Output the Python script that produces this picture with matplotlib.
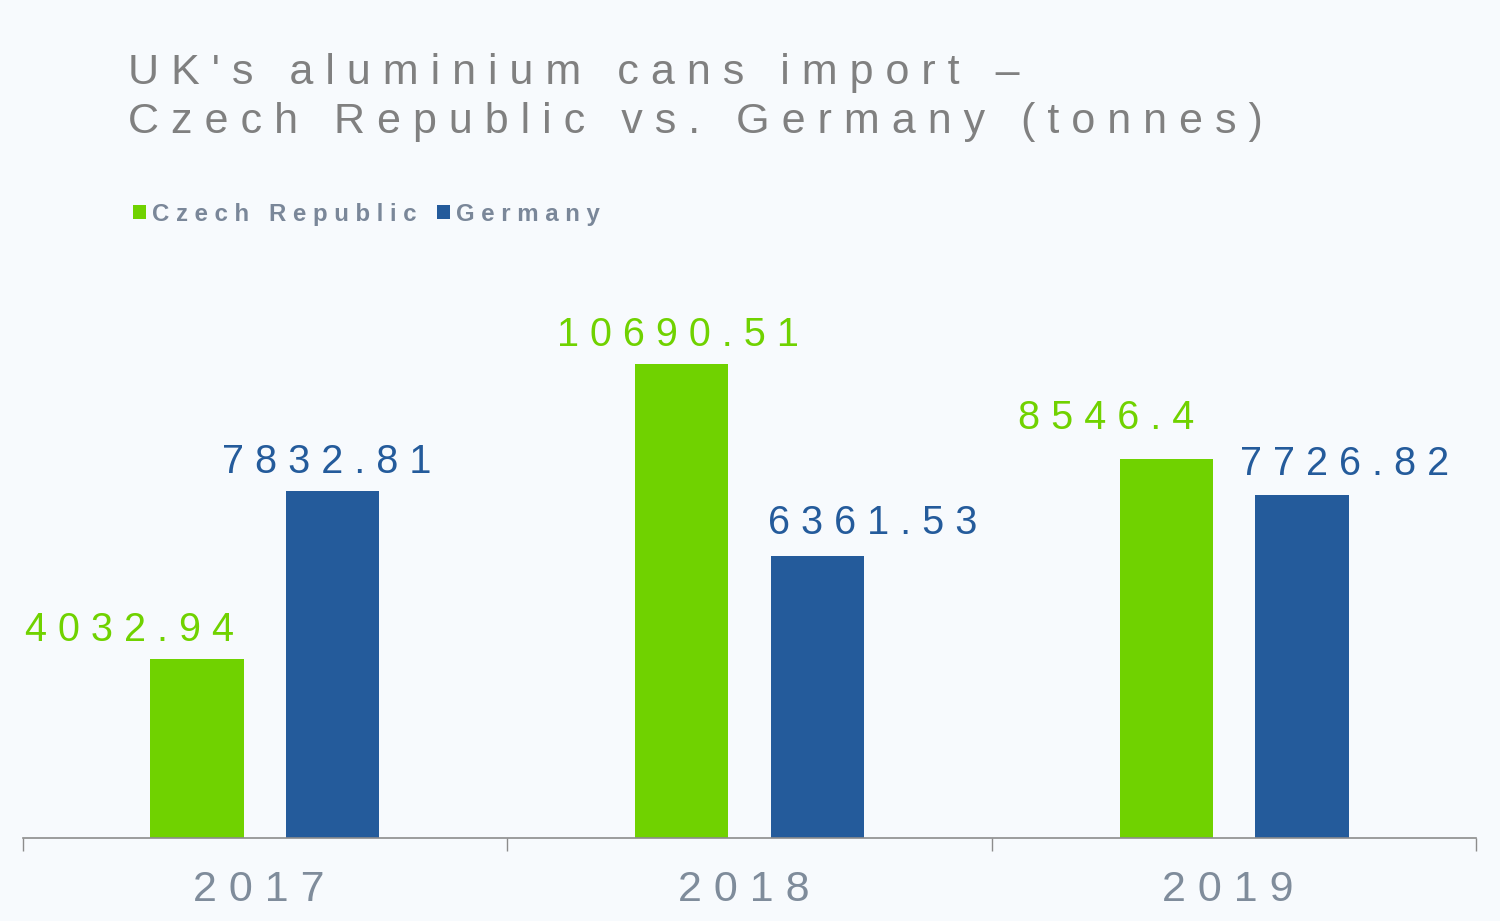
import matplotlib
matplotlib.use('Agg')
import matplotlib.pyplot as plt
import numpy as np

plt.rcParams['font.family'] = ['Liberation Sans', 'DejaVu Sans']

# data
years = ['2017', '2018', '2019']
czech = [4032.94, 10690.51, 8546.4]
germany = [7832.81, 6361.53, 7726.82]
series_names = ['Czech Republic', 'Germany']

# label offsets in pixels (dx, dy) as placed in the original
czech_off = [(-67, 10), (-4, 10), (-60, 22)]
germ_off = [(-6, 10), (55, 14), (43, 12)]

green = '#70D200'
blue = '#245B9B'
bg = '#F7FAFD'


def spaced(s):
    # wide letter spacing like the original
    return '   '.join(' '.join(w) for w in s.split(' '))


fig = plt.figure(figsize=(15, 9.21), dpi=100, facecolor=bg)
ax = fig.add_axes([22.5/1500, 1-838/921, 1454/1500, 538/921], facecolor=bg)

x = np.arange(len(years))
w = 0.192
off = 0.14
b1 = ax.bar(x - off, czech, w, color=green, label=spaced(series_names[0]))
b2 = ax.bar(x + off, germany, w, color=blue, label=spaced(series_names[1]))

for rect, v, (dx, dy) in zip(b1, czech, czech_off):
    ax.annotate(spaced(str(v)), (rect.get_x() + rect.get_width()/2, v),
                xytext=(dx*0.72, dy*0.72), textcoords='offset points',
                ha='center', va='bottom', fontsize=28.5, color=green)
for rect, v, (dx, dy) in zip(b2, germany, germ_off):
    ax.annotate(spaced(str(v)), (rect.get_x() + rect.get_width()/2, v),
                xytext=(dx*0.72, dy*0.72), textcoords='offset points',
                ha='center', va='bottom', fontsize=28.5, color=blue)

ax.set_xlim(-0.5, 2.5)
ax.set_ylim(0, 12133)
ax.set_yticks([])
for s in ['top', 'right', 'left']:
    ax.spines[s].set_visible(False)
ax.spines['bottom'].set_color('#8C8C8C')
ax.spines['bottom'].set_linewidth(1.2)

ax.set_xticks([-0.5, 0.5, 1.5, 2.5])
ax.set_xticklabels([])
ax.tick_params(axis='x', which='major', direction='out', length=9, color='#8C8C8C', width=1)
ax.set_xticks(x, minor=True)
# trailing space: letter spacing also follows the last character
ax.set_xticklabels([spaced(y) + ' ' for y in years], minor=True)
ax.tick_params(axis='x', which='minor', length=0, pad=23, labelsize=31, labelcolor='#7F8C9B')

fig.text(128/1500, 1-53/921, spaced("UK's aluminium cans import –") + '\n' +
         spaced('Czech Republic vs. Germany (tonnes)'),
         ha='left', va='top', fontsize=31, color='#808080', linespacing=1.3)

leg = ax.legend(handles=[b1, b2], ncol=2, frameon=False, loc='center left',
                bbox_to_anchor=(133/1500, 1-214/921), bbox_transform=fig.transFigure,
                borderaxespad=0, borderpad=0,
                handlelength=0.55, handleheight=0.55, handletextpad=0.25, columnspacing=0.85,
                prop={'weight': 'bold', 'size': 17.3})
for t in leg.get_texts():
    t.set_color('#7A8799')

fig.savefig('out.png', dpi=100, facecolor=bg)
